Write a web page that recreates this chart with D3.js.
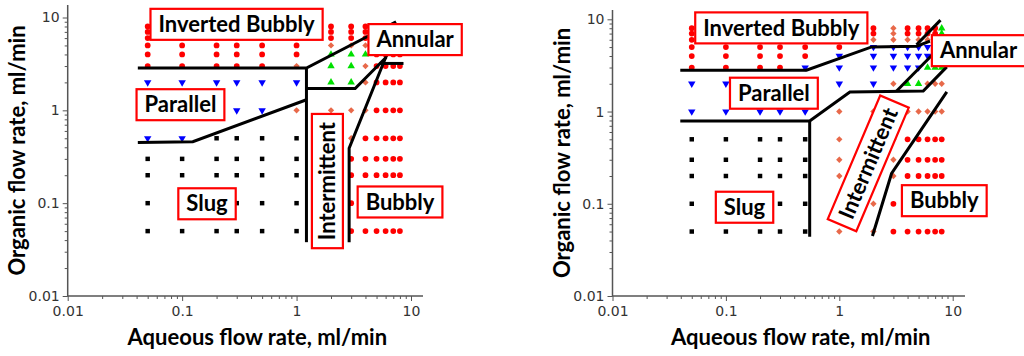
<!DOCTYPE html>
<html>
<head>
<meta charset="utf-8">
<script src="https://cdn.jsdelivr.net/npm/d3@7"></script>
<style>
  body { margin: 0; background: #fff; }
  svg { display: block; }
  .tick text { font-family: 'DejaVu Sans', sans-serif; font-size: 14px; fill: #333; }
  .title { font-family: Lato, sans-serif; font-weight: 700; font-size: 22px; fill: #000; }
  .tag text { font-family: Lato, sans-serif; font-weight: 700; font-size: 22px; fill: #000; }
</style>
</head>
<body>
<svg id="chart" width="1024" height="356"></svg>
<script>
// test grid, ml/min
const aqueousRates = [0.05, 0.1, 0.2, 0.3, 0.5, 1, 2, 3, 4, 5, 6, 7, 8];
const organicRates = [8, 7, 6, 5, 4, 3, 2, 1, 0.5, 0.3, 0.2, 0.1, 0.05];

// regime seen at each grid point, one string per organic rate (top row first)
// S slug, P parallel, B bubbly, I intermittent, A annular
const regimesLeft = [
  'BBBBBBBBBBBBB',
  'BBBBBBBBBBBBB',
  'BBBBBBBBBBBBB',
  'BBBBBBIIIBBBB',
  'BBBBBBAAABBBB',
  'BBBBBIAAIBBBB',
  'PPPPPPAAIBBBB',
  'PPPPPIIIIBBBB',
  'PPSSSSIIBBBBB',
  'SSSSSSIBBBBBB',
  'SSSSSSIBBBBBB',
  'SSSSSSIBBBBBB',
  'SSSSSSIBBBBBB'
];
const regimesRight = [
  'BBBBBBBIBBBBA',
  'BBBBBBBIBBBBA',
  'BBBBBBIIIIIIA',
  'BBBBBBPPPPPAA',
  'BBBBBPPPPPPAA',
  'BBBBPPPPPPAAA',
  'PPPPPPPIAAIII',
  'PPPPPIIIIIIII',
  'SSSSSIIIBBBBB',
  'SSSSSIIIBBBBB',
  'SSSSSIIIBBBBB',
  'SSSSSIIBBBBBB',
  'SSSSSIIBBBBBB'
];

// regime boundaries, [aqueous, organic]
const boundariesLeft = [
  [[0.041, 2.85], [1.22, 2.85], [7.4, 9.0]],
  [[1.22, 2.85], [1.22, 0.038]],
  [[0.041, 0.45], [0.124, 0.46], [1.22, 1.3]],
  [[1.22, 1.72], [3.25, 1.72], [6.1, 3.75]],
  [[2.88, 0.038], [2.88, 0.39], [6.1, 3.9]],
  [[5.3, 3.2], [8.6, 3.2]]
];
const boundariesRight = [
  [[0.0396, 2.81], [0.513, 2.81], [1.93, 5.02], [4.82, 5.1], [6.3, 5.8]],
  [[4.8, 5.3], [7.8, 9.8]],
  [[0.0396, 0.79], [0.548, 0.79], [1.24, 1.63], [5.5, 1.67], [8.87, 3.05]],
  [[0.548, 0.79], [0.548, 0.0439]],
  [[3.2, 1.67], [7.74, 5.0]],
  [[1.96, 0.0447], [2.89, 0.213], [8.87, 1.63]]
];

// regime names, centred at [aqueous, organic], angle in degrees
const labelsLeft = [
  { text: 'Inverted Bubbly', x: 0.299, y: 8.44, angle: 0 },
  { text: 'Annular', x: 10.86, y: 5.78, angle: 0 },
  { text: 'Parallel', x: 0.0967, y: 1.15, angle: 0 },
  { text: 'Slug', x: 0.165, y: 0.0985, angle: 0 },
  { text: 'Intermittent', x: 1.86, y: 0.173, angle: -90 },
  { text: 'Bubbly', x: 8.02, y: 0.103, angle: 0 }
];
const labelsRight = [
  { text: 'Inverted Bubbly', x: 0.308, y: 8.07, angle: 0 },
  { text: 'Parallel', x: 0.265, y: 1.58, angle: 0 },
  { text: 'Annular', x: 16.9, y: 4.57, angle: 0 },
  { text: 'Slug', x: 0.146, y: 0.0917, angle: 0 },
  { text: 'Intermittent', x: 1.80, y: 0.274, angle: -67 },
  { text: 'Bubbly', x: 8.43, y: 0.108, angle: 0 }
];

const decades = [0.01, 0.1, 1, 10];
const decadeLabels = ['0.01', '0.1', '1', '10'];

// marker look per regime
const markerStyle = {
  S: { type: d3.symbolSquare, size: 20, fill: '#000', rotate: 0 },
  P: { type: d3.symbolTriangle, size: 24, fill: '#0000FF', rotate: 180 },
  B: { type: d3.symbolCircle, size: 26, fill: '#FF0000', rotate: 0 },
  I: { type: d3.symbolSquare, size: 20, fill: '#E8694A', rotate: 45 },
  A: { type: d3.symbolTriangle, size: 24, fill: '#00E000', rotate: 0 }
};

const svg = d3.select('#chart');

const panels = [
  { regimes: regimesLeft, bounds: boundariesLeft, labels: labelsLeft,
    xPx: [67.7, 411], xEnd: 423, yPx: [296, 17.5], yEnd: 5 },
  { regimes: regimesRight, bounds: boundariesRight, labels: labelsRight,
    xPx: [612.5, 952.7], xEnd: 965, yPx: [296, 19.3], yEnd: 10 }
];

panels.forEach(drawPanel);

function drawPanel(p) {
  const x = d3.scaleLog().domain([0.01, 10]).range(p.xPx);
  const y = d3.scaleLog().domain([0.01, 10]).range(p.yPx);
  const g = svg.append('g');

  // minor tick values 2..9 per decade
  const minor = [];
  decades.slice(0, 3).forEach(d => d3.range(2, 10).forEach(k => minor.push(d * k)));

  const xAxisG = g.append('g').attr('transform', `translate(0,${p.yPx[0]})`);
  xAxisG.append('g').call(d3.axisBottom(x).tickValues(minor).tickSize(3).tickFormat(''));
  xAxisG.append('g').call(d3.axisBottom(x).tickValues(decades).tickSize(5)
    .tickFormat((d, i) => decadeLabels[i]).tickPadding(5));

  const yAxisG = g.append('g').attr('transform', `translate(${p.xPx[0]},0)`);
  yAxisG.append('g').call(d3.axisLeft(y).tickValues(minor).tickSize(3).tickFormat(''));
  yAxisG.append('g').call(d3.axisLeft(y).tickValues(decades).tickSize(5)
    .tickFormat((d, i) => decadeLabels[i]).tickPadding(3));

  g.selectAll('.domain').remove();
  g.selectAll('.tick line').attr('stroke', '#555').attr('stroke-width', 1);

  // axis lines
  g.append('path')
    .attr('d', `M${p.xPx[0]},${p.yEnd}V${p.yPx[0]}H${p.xEnd}`)
    .attr('fill', 'none').attr('stroke', '#555').attr('stroke-width', 1.5);

  // axis titles
  g.append('text').attr('class', 'title')
    .attr('text-anchor', 'middle')
    .attr('x', (p.xPx[0] + p.xEnd) / 2 + 12).attr('y', 345)
    .text('Aqueous flow rate, ml/min');
  g.append('text').attr('class', 'title')
    .attr('text-anchor', 'middle')
    .attr('transform', `translate(${p.xPx[0] - 43},${(p.yEnd + p.yPx[0]) / 2}) rotate(-90)`)
    .text('Organic flow rate, ml/min');

  // grid points
  const points = [];
  p.regimes.forEach((row, r) => {
    row.split('').forEach((code, c) => {
      if (markerStyle[code]) points.push({ q: aqueousRates[c], o: organicRates[r], code });
    });
  });

  g.append('g').selectAll('path')
    .data(points)
    .enter()
    .append('path')
    .attr('d', d => d3.symbol().type(markerStyle[d.code].type).size(markerStyle[d.code].size)())
    .attr('transform', d => `translate(${x(d.q)},${y(d.o)}) rotate(${markerStyle[d.code].rotate})`)
    .attr('fill', d => markerStyle[d.code].fill);

  // boundaries
  const line = d3.line().x(d => x(d[0])).y(d => y(d[1]));
  g.append('g').selectAll('path')
    .data(p.bounds)
    .enter()
    .append('path')
    .attr('d', line)
    .attr('fill', 'none')
    .attr('stroke', '#000')
    .attr('stroke-width', 3);

  // regime tags
  const tags = g.append('g').selectAll('g')
    .data(p.labels)
    .enter()
    .append('g')
    .attr('class', 'tag')
    .attr('transform', d => `translate(${x(d.x)},${y(d.y)}) rotate(${d.angle})`);

  tags.append('rect');
  tags.append('text')
    .attr('text-anchor', 'middle')
    .attr('dy', '0.35em')
    .text(d => d.text);

  tags.each(function() {
    const t = d3.select(this).select('text').node();
    const w = t.getComputedTextLength() + 16;
    const h = 31;
    d3.select(this).select('rect')
      .attr('x', -w / 2).attr('y', -h / 2)
      .attr('width', w).attr('height', h)
      .attr('fill', '#fff')
      .attr('stroke', '#FF0000')
      .attr('stroke-width', 2.2);
  });
}
</script>
</body>
</html>
